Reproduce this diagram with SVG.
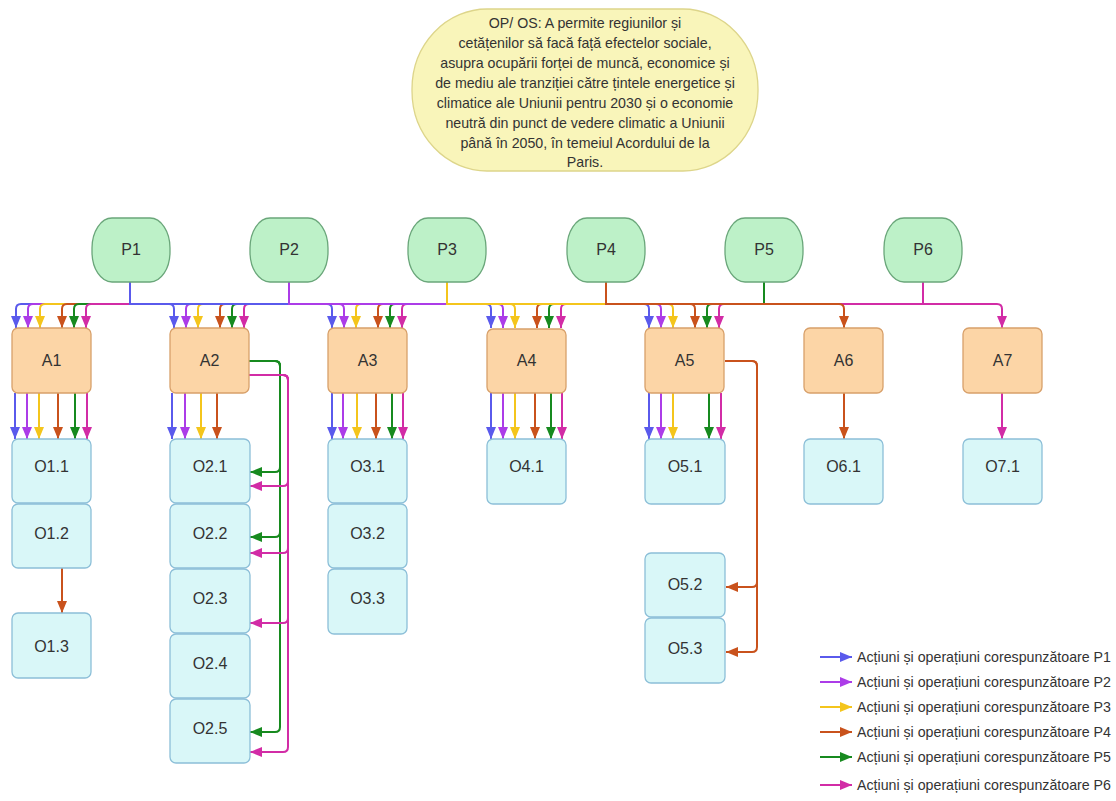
<svg xmlns="http://www.w3.org/2000/svg" width="1116" height="801" viewBox="0 0 1116 801">
<style>
text{font-family:"Liberation Sans",Arial,sans-serif;fill:#333;}
.t{font-size:14.2px;text-anchor:middle;}
.n{font-size:16px;text-anchor:middle;}
.lg{font-size:14.2px;}
.p{fill:#bdf1c8;stroke:#6aa67a;stroke-width:1.3;}
.a{fill:#fcd5a6;stroke:#d8a06a;stroke-width:1.3;}
.o{fill:#d9f7f8;stroke:#8cbfd8;stroke-width:1.3;}
.e{fill:#f9f5ba;stroke:#ddd58a;stroke-width:1.3;}
path{fill:none;stroke-width:2;}
.c1{stroke:#5a5aec;marker-end:url(#m1);}
.c2{stroke:#ac3ce8;marker-end:url(#m2);}
.c3{stroke:#f4c51c;marker-end:url(#m3);}
.c4{stroke:#c9521c;marker-end:url(#m4);}
.c5{stroke:#178a1f;marker-end:url(#m5);}
.c6{stroke:#d22ca6;marker-end:url(#m6);}
</style>
<defs>
<marker id="m1" viewBox="0 0 12 10" refX="12" refY="5" markerWidth="13" markerHeight="10" markerUnits="userSpaceOnUse" orient="auto"><path d="M0,0 L12,5 L0,10 z" style="fill:#5a5aec;stroke:none"/></marker>
<marker id="m2" viewBox="0 0 12 10" refX="12" refY="5" markerWidth="13" markerHeight="10" markerUnits="userSpaceOnUse" orient="auto"><path d="M0,0 L12,5 L0,10 z" style="fill:#ac3ce8;stroke:none"/></marker>
<marker id="m3" viewBox="0 0 12 10" refX="12" refY="5" markerWidth="13" markerHeight="10" markerUnits="userSpaceOnUse" orient="auto"><path d="M0,0 L12,5 L0,10 z" style="fill:#f4c51c;stroke:none"/></marker>
<marker id="m4" viewBox="0 0 12 10" refX="12" refY="5" markerWidth="13" markerHeight="10" markerUnits="userSpaceOnUse" orient="auto"><path d="M0,0 L12,5 L0,10 z" style="fill:#c9521c;stroke:none"/></marker>
<marker id="m5" viewBox="0 0 12 10" refX="12" refY="5" markerWidth="13" markerHeight="10" markerUnits="userSpaceOnUse" orient="auto"><path d="M0,0 L12,5 L0,10 z" style="fill:#178a1f;stroke:none"/></marker>
<marker id="m6" viewBox="0 0 12 10" refX="12" refY="5" markerWidth="13" markerHeight="10" markerUnits="userSpaceOnUse" orient="auto"><path d="M0,0 L12,5 L0,10 z" style="fill:#d22ca6;stroke:none"/></marker>
</defs>

<g id="OS">
<rect class="e" x="412" y="9" width="346" height="162" rx="75" ry="80"/>
<text class="t" x="585" y="28">OP/ OS: A permite regiunilor și</text>
<text class="t" x="585" y="48">cetățenilor să facă față efectelor sociale,</text>
<text class="t" x="585" y="68">asupra ocupării forței de muncă, economice și</text>
<text class="t" x="585" y="88">de mediu ale tranziției către țintele energetice și</text>
<text class="t" x="585" y="108">climatice ale Uniunii pentru 2030 și o economie</text>
<text class="t" x="585" y="128">neutră din punct de vedere climatic a Uniunii</text>
<text class="t" x="585" y="148">până în 2050, în temeiul Acordului de la</text>
<text class="t" x="585" y="167">Paris.</text>
</g>

<g id="connectors">
<path class="c1" d="M130 282 V304 H21 Q16 304 16 309 V328"/>
<path class="c2" d="M289 282 V304 H33 Q28 304 28 309 V328"/>
<path class="c2" d="M289 282 V304 H191 Q186 304 186 309 V328"/>
<path class="c3" d="M447 282 V304 H45 Q40 304 40 309 V328"/>
<path class="c3" d="M447 282 V304 H203 Q198 304 198 309 V328"/>
<path class="c3" d="M447 282 V304 H361 Q356 304 356 309 V328"/>
<path class="c4" d="M606 282 V304 H67 Q62 304 62 309 V328"/>
<path class="c4" d="M606 282 V304 H225 Q220 304 220 309 V328"/>
<path class="c4" d="M606 282 V304 H383 Q378 304 378 309 V328"/>
<path class="c4" d="M606 282 V304 H542 Q537 304 537 309 V328"/>
<path class="c5" d="M764 282 V304 H79 Q74 304 74 309 V328"/>
<path class="c5" d="M764 282 V304 H237 Q232 304 232 309 V328"/>
<path class="c5" d="M764 282 V304 H395 Q390 304 390 309 V328"/>
<path class="c5" d="M764 282 V304 H554 Q549 304 549 309 V328"/>
<path class="c5" d="M764 282 V304 H712 Q707 304 707 309 V328"/>
<path class="c6" d="M923 282 V304 H91 Q86 304 86 309 V328"/>
<path class="c6" d="M923 282 V304 H249 Q244 304 244 309 V328"/>
<path class="c6" d="M923 282 V304 H407 Q402 304 402 309 V328"/>
<path class="c6" d="M923 282 V304 H566 Q561 304 561 309 V328"/>
<path class="c6" d="M923 282 V304 H724 Q719 304 719 309 V328"/>
<path class="c1" d="M130 282 V304 H644 Q649 304 649 309 V328"/>
<path class="c1" d="M130 282 V304 H486 Q491 304 491 309 V328"/>
<path class="c1" d="M130 282 V304 H327 Q332 304 332 309 V328"/>
<path class="c1" d="M130 282 V304 H169 Q174 304 174 309 V328"/>
<path class="c2" d="M289 282 V304 H656 Q661 304 661 309 V328"/>
<path class="c2" d="M289 282 V304 H498 Q503 304 503 309 V328"/>
<path class="c2" d="M289 282 V304 H339 Q344 304 344 309 V328"/>
<path class="c3" d="M447 282 V304 H668 Q673 304 673 309 V328"/>
<path class="c3" d="M447 282 V304 H510 Q515 304 515 309 V328"/>
<path class="c4" d="M606 282 V304 H839 Q844 304 844 309 V328"/>
<path class="c4" d="M606 282 V304 H690 Q695 304 695 309 V328"/>
<path class="c6" d="M923 282 V304 H997 Q1002 304 1002 309 V328"/>

<path class="c1" d="M15 393 V439"/>
<path class="c2" d="M27 393 V439"/>
<path class="c3" d="M39 393 V439"/>
<path class="c4" d="M58 393 V439"/>
<path class="c5" d="M75 393 V439"/>
<path class="c6" d="M87 393 V439"/>

<path class="c1" d="M172 393 V439"/>
<path class="c2" d="M185 393 V439"/>
<path class="c3" d="M201 393 V439"/>
<path class="c4" d="M217 393 V439"/>

<path class="c1" d="M332 393 V439"/>
<path class="c2" d="M343 393 V439"/>
<path class="c3" d="M357 393 V439"/>
<path class="c4" d="M376 393 V439"/>
<path class="c5" d="M392 393 V439"/>
<path class="c6" d="M403 393 V439"/>

<path class="c1" d="M491 393 V439"/>
<path class="c2" d="M503 393 V439"/>
<path class="c3" d="M515 393 V439"/>
<path class="c4" d="M535 393 V439"/>
<path class="c5" d="M551 393 V439"/>
<path class="c6" d="M562 393 V439"/>

<path class="c1" d="M649 393 V439"/>
<path class="c2" d="M661 393 V439"/>
<path class="c3" d="M673 393 V439"/>
<path class="c5" d="M709 393 V439"/>
<path class="c6" d="M721 393 V439"/>

<path class="c4" d="M844 393 V439"/>
<path class="c6" d="M1002 393 V439"/>

<path class="c4" d="M62 568 V613"/>

<path class="c5" d="M249 361 H275 Q280 361 280 366 V467 Q280 472 275 472 H250"/>
<path class="c5" d="M249 361 H275 Q280 361 280 366 V532 Q280 537 275 537 H250"/>
<path class="c5" d="M249 361 H275 Q280 361 280 366 V727 Q280 732 275 732 H250"/>
<path class="c6" d="M249 375 H283 Q288 375 288 380 V481 Q288 486 283 486 H250"/>
<path class="c6" d="M249 375 H283 Q288 375 288 380 V548 Q288 553 283 553 H250"/>
<path class="c6" d="M249 375 H283 Q288 375 288 380 V618 Q288 623 283 623 H250"/>
<path class="c6" d="M249 375 H283 Q288 375 288 380 V747 Q288 752 283 752 H250"/>
<path class="c4" d="M725 361 H752 Q757 361 757 366 V582 Q757 587 752 587 H726"/>
<path class="c4" d="M725 361 H752 Q757 361 757 366 V647 Q757 652 752 652 H726"/>
</g>

<g id="P1"><rect class="p" x="92" y="218" width="78" height="64" rx="20" ry="30"/><text class="n" x="131" y="255">P1</text></g>
<g id="P2"><rect class="p" x="250" y="218" width="78" height="64" rx="20" ry="30"/><text class="n" x="289" y="255">P2</text></g>
<g id="P3"><rect class="p" x="408" y="218" width="78" height="64" rx="20" ry="30"/><text class="n" x="447" y="255">P3</text></g>
<g id="P4"><rect class="p" x="567" y="218" width="78" height="64" rx="20" ry="30"/><text class="n" x="606" y="255">P4</text></g>
<g id="P5"><rect class="p" x="725" y="218" width="78" height="64" rx="20" ry="30"/><text class="n" x="764" y="255">P5</text></g>
<g id="P6"><rect class="p" x="884" y="218" width="78" height="64" rx="20" ry="30"/><text class="n" x="923" y="255">P6</text></g>

<g id="A1"><rect class="a" x="12" y="328" width="79" height="65" rx="6"/><text class="n" x="51.5" y="366">A1</text></g>
<g id="A2"><rect class="a" x="170" y="328" width="79" height="65" rx="6"/><text class="n" x="209.5" y="366">A2</text></g>
<g id="A3"><rect class="a" x="328" y="328" width="79" height="65" rx="6"/><text class="n" x="367.5" y="366">A3</text></g>
<g id="A4"><rect class="a" x="487" y="329" width="79" height="64" rx="6"/><text class="n" x="526.5" y="366">A4</text></g>
<g id="A5"><rect class="a" x="645" y="328" width="79" height="65" rx="6"/><text class="n" x="684.5" y="366">A5</text></g>
<g id="A6"><rect class="a" x="804" y="328" width="79" height="65" rx="6"/><text class="n" x="843.5" y="366">A6</text></g>
<g id="A7"><rect class="a" x="963" y="328" width="79" height="65" rx="6"/><text class="n" x="1002.5" y="366">A7</text></g>

<g id="O1.1"><rect class="o" x="12" y="439" width="79" height="64" rx="6"/><text class="n" x="51.5" y="472">O1.1</text></g>
<g id="O1.2"><rect class="o" x="12" y="504" width="79" height="64" rx="6"/><text class="n" x="51.5" y="539">O1.2</text></g>
<g id="O1.3"><rect class="o" x="12" y="613" width="79" height="65" rx="6"/><text class="n" x="51.5" y="652">O1.3</text></g>

<g id="O2.1"><rect class="o" x="170" y="439" width="80" height="64" rx="6"/><text class="n" x="210" y="472">O2.1</text></g>
<g id="O2.2"><rect class="o" x="170" y="504" width="80" height="64" rx="6"/><text class="n" x="210" y="539">O2.2</text></g>
<g id="O2.3"><rect class="o" x="170" y="569" width="80" height="64" rx="6"/><text class="n" x="210" y="604">O2.3</text></g>
<g id="O2.4"><rect class="o" x="170" y="634" width="80" height="64" rx="6"/><text class="n" x="210" y="669">O2.4</text></g>
<g id="O2.5"><rect class="o" x="170" y="699" width="80" height="64" rx="6"/><text class="n" x="210" y="734">O2.5</text></g>

<g id="O3.1"><rect class="o" x="328" y="439" width="79" height="64" rx="6"/><text class="n" x="367.5" y="472">O3.1</text></g>
<g id="O3.2"><rect class="o" x="328" y="504" width="79" height="64" rx="6"/><text class="n" x="367.5" y="539">O3.2</text></g>
<g id="O3.3"><rect class="o" x="328" y="569" width="79" height="65" rx="6"/><text class="n" x="367.5" y="604">O3.3</text></g>

<g id="O4.1"><rect class="o" x="487" y="439" width="79" height="65" rx="6"/><text class="n" x="526.5" y="472">O4.1</text></g>
<g id="O5.1"><rect class="o" x="645" y="439" width="80" height="65" rx="6"/><text class="n" x="685" y="472">O5.1</text></g>
<g id="O5.2"><rect class="o" x="645" y="553" width="80" height="64" rx="6"/><text class="n" x="685" y="590">O5.2</text></g>
<g id="O5.3"><rect class="o" x="645" y="618" width="80" height="65" rx="6"/><text class="n" x="685" y="654">O5.3</text></g>
<g id="O6.1"><rect class="o" x="804" y="439" width="79" height="65" rx="6"/><text class="n" x="843.5" y="472">O6.1</text></g>
<g id="O7.1"><rect class="o" x="963" y="439" width="79" height="65" rx="6"/><text class="n" x="1002.5" y="472">O7.1</text></g>

<g id="legend">
<path class="c1" d="M820 657 H852"/><text class="lg" x="857" y="662">Acțiuni și operațiuni corespunzătoare P1</text>
<path class="c2" d="M820 682 H852"/><text class="lg" x="857" y="687">Acțiuni și operațiuni corespunzătoare P2</text>
<path class="c3" d="M820 707 H852"/><text class="lg" x="857" y="712">Acțiuni și operațiuni corespunzătoare P3</text>
<path class="c4" d="M820 732 H852"/><text class="lg" x="857" y="737">Acțiuni și operațiuni corespunzătoare P4</text>
<path class="c5" d="M820 757 H852"/><text class="lg" x="857" y="762">Acțiuni și operațiuni corespunzătoare P5</text>
<path class="c6" d="M820 785 H852"/><text class="lg" x="857" y="790">Acțiuni și operațiuni corespunzătoare P6</text>
</g>
</svg>
